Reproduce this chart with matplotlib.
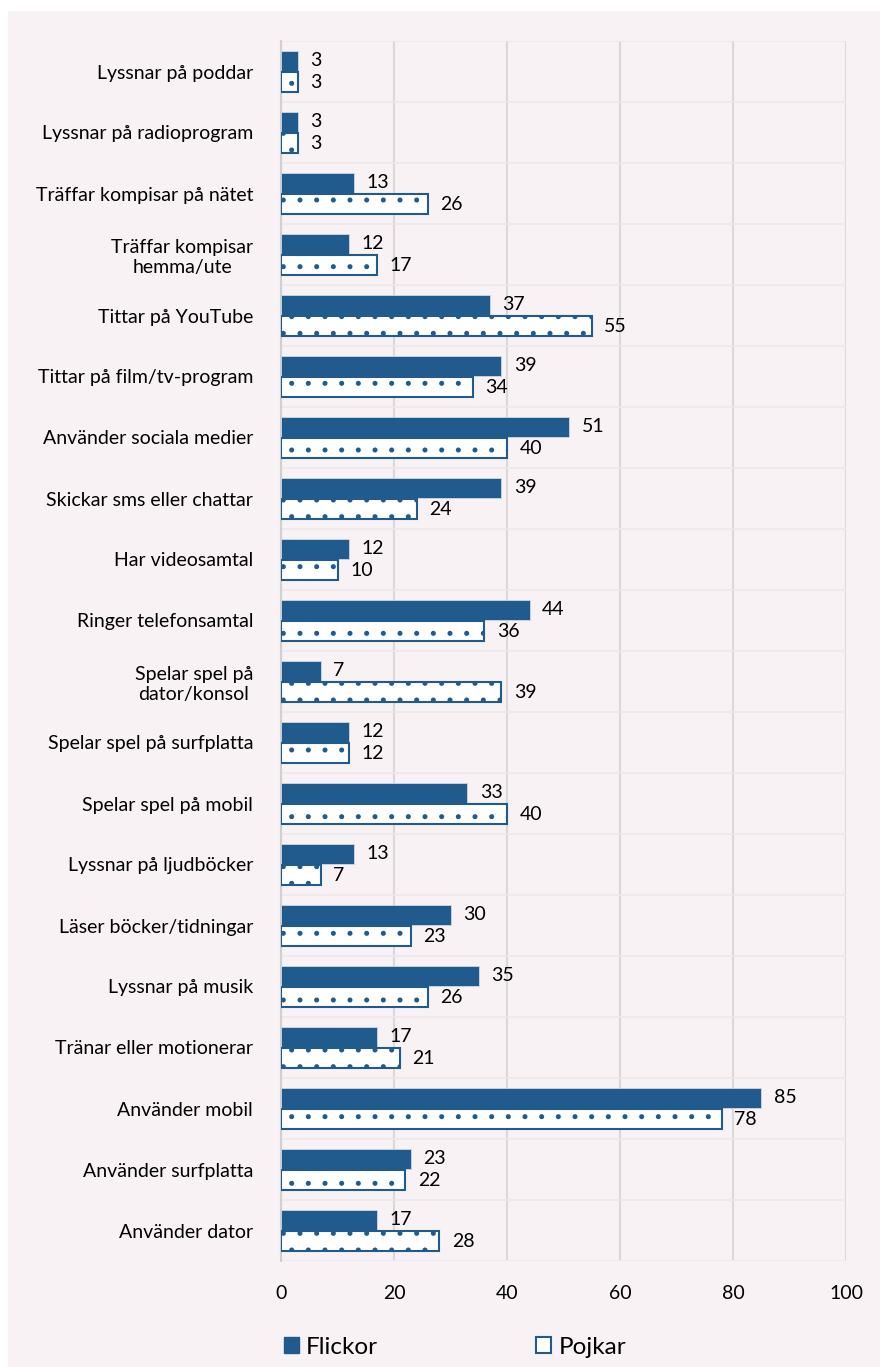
import matplotlib.pyplot as plt
import numpy as np
from matplotlib.patches import Patch, Rectangle

plt.rcParams['font.family'] = ['Lato', 'DejaVu Sans']
plt.rcParams['hatch.linewidth'] = 1.2

# Andel (%) per aktivitet, uppifrån och ned
categories = [
    "Lyssnar på poddar",
    "Lyssnar på radioprogram",
    "Träffar kompisar på nätet",
    "Träffar kompisar\nhemma/ute",
    "Tittar på YouTube",
    "Tittar på film/tv-program",
    "Använder sociala medier",
    "Skickar sms eller chattar",
    "Har videosamtal",
    "Ringer telefonsamtal",
    "Spelar spel på\ndator/konsol",
    "Spelar spel på surfplatta",
    "Spelar spel på mobil",
    "Lyssnar på ljudböcker",
    "Läser böcker/tidningar",
    "Lyssnar på musik",
    "Tränar eller motionerar",
    "Använder mobil",
    "Använder surfplatta",
    "Använder dator",
]
flickor = [3, 3, 13, 12, 37, 39, 51, 39, 12, 44, 7, 12, 33, 13, 30, 35, 17, 85, 23, 17]
pojkar = [3, 3, 26, 17, 55, 34, 40, 24, 10, 36, 39, 12, 40, 7, 23, 26, 21, 78, 22, 28]
xticks = [0, 20, 40, 60, 80, 100]

navy = "#215a8c"
bg = "#f8f2f4"
fs = 14

fig = plt.figure(figsize=(8.8, 13.67), dpi=100, facecolor="white")
fig.patches.append(Rectangle((8 / 880, 0), 1, 1 - 11 / 1367, transform=fig.transFigure,
                             facecolor=bg, edgecolor="none", zorder=-10))
ax = fig.add_axes([281 / 880, 1 - 1261 / 1367, 565 / 880, 1220 / 1367])
ax.set_facecolor(bg)

y = np.arange(len(categories))
h = 0.32
off = 0.175
b1 = ax.barh(y - off, flickor, height=h, color=navy, edgecolor="#cfd8e3", linewidth=0.6, zorder=3)
b2 = ax.barh(y + off, pojkar, height=h, color="white", edgecolor=navy, linewidth=1.5,
             hatch=".", zorder=3)

for bars, vals in ((b1, flickor), (b2, pojkar)):
    for bar, v in zip(bars, vals):
        ax.annotate(str(v), (bar.get_width(), bar.get_y() + bar.get_height() / 2),
                    xytext=(9, 0), textcoords="offset points", va="center", ha="left",
                    fontsize=fs, color="black")

ax.set_xlim(0, 100)
ax.set_ylim(len(categories) - 0.5, -0.5)
ax.set_xticks(xticks)
ax.set_yticks(y)
ax.set_yticklabels(categories, multialignment="center")
ax.tick_params(axis="y", length=0, pad=20, labelsize=fs)
ax.tick_params(axis="x", length=0, pad=17, labelsize=fs)

ax.set_yticks(np.arange(-0.5, len(categories)), minor=True)
ax.tick_params(axis="y", which="minor", length=0)
ax.grid(axis="x", which="major", color="#d9d9d9", linewidth=1.5, zorder=0)
ax.grid(axis="y", which="minor", color="#ede8ea", linewidth=1.2, zorder=0)
for s in ["top", "right", "bottom"]:
    ax.spines[s].set_visible(False)
ax.spines["left"].set_color("#d0d0d0")
ax.spines["left"].set_linewidth(1.5)

handles = [Patch(facecolor=navy, edgecolor=navy, label="Flickor"),
           Patch(facecolor="white", edgecolor=navy, linewidth=1.5, label="Pojkar")]
fig.legend(handles=handles, loc="center", bbox_to_anchor=(455 / 880, 1 - 1347 / 1367),
           ncol=2, frameon=False, fontsize=17.5, handlelength=0.62, handleheight=0.62,
           handletextpad=0.3, columnspacing=6.5)

fig.savefig("out.png", dpi=100, facecolor=fig.get_facecolor())
